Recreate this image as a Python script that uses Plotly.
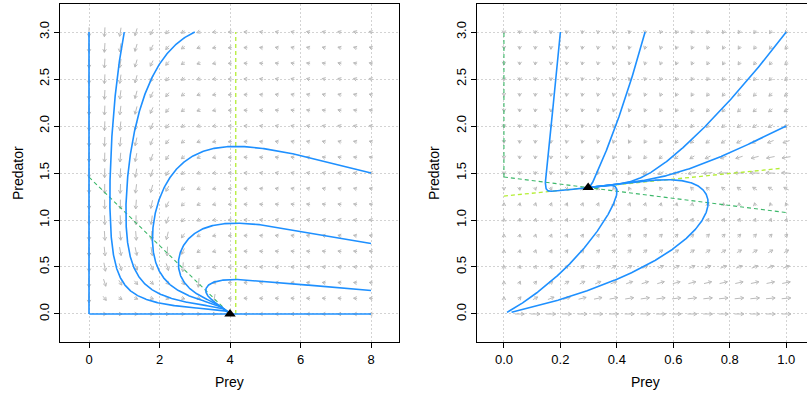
import numpy as np
import plotly.graph_objects as go

W, H = 807, 399

# ---------------- data ----------------
prey_ticks_a = [0, 2, 4, 6, 8]
prey_labels_a = ["0", "2", "4", "6", "8"]
prey_ticks_b = [0.0, 0.2, 0.4, 0.6, 0.8, 1.0]
prey_labels_b = ["0.0", "0.2", "0.4", "0.6", "0.8", "1.0"]
pred_ticks = [0.0, 0.5, 1.0, 1.5, 2.0, 2.5, 3.0]
pred_labels = ["0.0", "0.5", "1.0", "1.5", "2.0", "2.5", "3.0"]

# Model A: logistic prey, predator with linear response and mortality
par_a = {"r": 1.0, "K": 4.0, "a": 0.687, "b": 0.27, "m": 1.124}
start_a_prey = [0.0, 1.0, 3.0, 8.0, 8.0, 8.0, 8.0, 0.01]
start_a_pred = [3.0, 3.0, 3.0, 1.5, 0.75, 0.25, 0.0, 0.0]

# Model B: logistic prey; predator with theta-logistic growth towards a
# prey-dependent capacity h + q*prey
par_b = {"r": 1.166, "K": 3.85, "a": 0.80, "s": 1.2, "h": 1.255, "q": 0.3, "theta": 1.5}
start_b_prey = [0.2, 0.5, 1.0, 1.0, 0.011, 0.027]
start_b_pred = [3.0, 3.0, 3.0, 2.0, 0.0175, 0.0175]

field_a = {"prey": (0.0, 8.0), "pred": (0.0, 3.0), "n": 19}
field_b = {"prey": (0.0, 1.0), "pred": (0.0, 3.0), "n": 19}


def rhs_a(x, y, p=par_a):
    dx = p["r"] * x * (1 - x / p["K"]) - p["a"] * x * y
    dy = p["b"] * x * y - p["m"] * y
    return dx, dy


def rhs_b(x, y, p=par_b):
    dx = p["r"] * x * (1 - x / p["K"]) - p["a"] * x * y
    cap = p["h"] + p["q"] * x
    dy = p["s"] * y * (1 - (np.abs(y) / cap) ** p["theta"])
    return dx, dy


# ---------------- geometry (pixels) ----------------
BOX_Y = (4, 342)            # top, bottom
BOX_A = (60, 399)           # left, right
BOX_B = (477, 807)
RANGE_Y = [-0.298, 3.298]
RANGE_A = [-0.823, 8.794]
RANGE_B = [-0.0954, 1.0735]

sy = (BOX_Y[1] - BOX_Y[0]) / (RANGE_Y[1] - RANGE_Y[0])
sx_a = (BOX_A[1] - BOX_A[0]) / (RANGE_A[1] - RANGE_A[0])
sx_b = (BOX_B[1] - BOX_B[0]) / (RANGE_B[1] - RANGE_B[0])


def rk4(rhs, x0, y0, T, dt, sx, sy, min_px=0.4):
    X = np.array(x0, float)
    Y = np.array(y0, float)
    n = int(T / dt)
    hist_x = np.empty((n + 1, X.size))
    hist_y = np.empty((n + 1, X.size))
    hist_x[0], hist_y[0] = X, Y
    for i in range(n):
        k1x, k1y = rhs(X, Y)
        k2x, k2y = rhs(X + dt / 2 * k1x, Y + dt / 2 * k1y)
        k3x, k3y = rhs(X + dt / 2 * k2x, Y + dt / 2 * k2y)
        k4x, k4y = rhs(X + dt * k3x, Y + dt * k3y)
        X = X + dt / 6 * (k1x + 2 * k2x + 2 * k3x + k4x)
        Y = Y + dt / 6 * (k1y + 2 * k2y + 2 * k3y + k4y)
        hist_x[i + 1], hist_y[i + 1] = X, Y
    paths = []
    for j in range(X.size):
        xs, ys = hist_x[:, j], hist_y[:, j]
        keep_x, keep_y = [xs[0]], [ys[0]]
        for xv, yv in zip(xs[1:], ys[1:]):
            if np.hypot((xv - keep_x[-1]) * sx, (yv - keep_y[-1]) * sy) >= min_px:
                keep_x.append(xv)
                keep_y.append(yv)
        keep_x.append(xs[-1])
        keep_y.append(ys[-1])
        paths.append((keep_x, keep_y))
    return paths


def field_segments(rhs, field, sx, sy, frac=0.6, head=3.6):
    gx = np.linspace(*field["prey"], field["n"])
    gy = np.linspace(*field["pred"], field["n"])
    L = frac * min(gx[1] - gx[0], gy[1] - gy[0])
    X, Y = np.meshgrid(gx, gy)
    dx, dy = rhs(X, Y)
    nrm = np.hypot(dx, dy)
    ox, oy = [], []
    for x0, y0, u, v, n in zip(X.ravel(), Y.ravel(), dx.ravel(), dy.ravel(), nrm.ravel()):
        if n < 1e-12:
            continue
        px, py = u / n * L * sx, v / n * L * sy
        cx, cy = x0 * sx, y0 * sy
        ax, ay = cx - px / 2, cy - py / 2
        bx, by = cx + px / 2, cy + py / 2
        ang = np.arctan2(py, px)
        h1 = (bx - head * np.cos(ang - np.pi / 6), by - head * np.sin(ang - np.pi / 6))
        h2 = (bx - head * np.cos(ang + np.pi / 6), by - head * np.sin(ang + np.pi / 6))
        ox += [ax / sx, bx / sx, None, h1[0] / sx, bx / sx, h2[0] / sx, None]
        oy += [ay / sy, by / sy, None, h1[1] / sy, by / sy, h2[1] / sy, None]
    return ox, oy


FIELD_COL = "#BBBBBB"
TRAJ_COL = "#1E90FF"
PREY_NC_COL = "#3DB86A"
PRED_NC_COL = "#B4EE34"

fig = go.Figure()


def add_panel(xa, ya, rhs, field, sx, starts_x, starts_y, T, prey_nc, pred_nc, eq):
    fx, fy = field_segments(rhs, field, sx, sy)
    fig.add_trace(go.Scatter(x=fx, y=fy, mode="lines", xaxis=xa, yaxis=ya,
                             line=dict(color=FIELD_COL, width=1), hoverinfo="skip"))
    for (nx, ny) in prey_nc:
        fig.add_trace(go.Scatter(x=nx, y=ny, mode="lines", xaxis=xa, yaxis=ya,
                                 line=dict(color=PREY_NC_COL, width=1.1, dash="4px,3px")))
    for (nx, ny) in pred_nc:
        fig.add_trace(go.Scatter(x=nx, y=ny, mode="lines", xaxis=xa, yaxis=ya,
                                 line=dict(color=PRED_NC_COL, width=1.3, dash="4px,3px")))
    for px, py in rk4(rhs, starts_x, starts_y, T, 0.005, sx, sy):
        fig.add_trace(go.Scatter(x=px, y=py, mode="lines", xaxis=xa, yaxis=ya,
                                 line=dict(color=TRAJ_COL, width=1.6)))
    fig.add_trace(go.Scatter(x=[eq[0]], y=[eq[1]], mode="markers", xaxis=xa, yaxis=ya,
                             marker=dict(symbol="triangle-up", size=10, color="black")))


# ---- panel A nullclines and equilibrium
pa = par_a
xa_line = np.linspace(0, pa["K"], 50)
prey_nc_a = [(xa_line, pa["r"] / pa["a"] * (1 - xa_line / pa["K"]))]
pred_nc_a = [([pa["m"] / pa["b"]] * 2, [0.0, 3.0])]
eq_a = (pa["K"], 0.0)

# ---- panel B nullclines and equilibrium
pb = par_b
xb_line = np.linspace(0, 1, 50)
ra = pb["r"] / pb["a"]
prey_nc_b = [(xb_line, ra * (1 - xb_line / pb["K"])),
             ([0.0, 0.0], [ra, 3.0])]
pred_nc_b = [(xb_line[:-1], pb["h"] + pb["q"] * xb_line[:-1])]
x_eq = (ra - pb["h"]) / (ra / pb["K"] + pb["q"])
eq_b = (x_eq, pb["h"] + pb["q"] * x_eq)

add_panel("x", "y", rhs_a, field_a, sx_a, start_a_prey, start_a_pred, 300,
          prey_nc_a, pred_nc_a, eq_a)
add_panel("x2", "y2", rhs_b, field_b, sx_b, start_b_prey, start_b_pred, 200,
          prey_nc_b, pred_nc_b, eq_b)

FONT = "Liberation Sans, Arial, sans-serif"
tickfont = dict(family=FONT, size=13, color="black")
common = dict(showline=True, linecolor="black", linewidth=1, ticks="outside",
              ticklen=5, tickwidth=1, tickcolor="black", showgrid=True,
              gridcolor="#D3D3D3", griddash="2px,2px", gridwidth=1,
              zeroline=False, tickfont=tickfont, fixedrange=True)

ydom = [(H - BOX_Y[1]) / H, (H - BOX_Y[0]) / H]
fig.update_layout(
    width=W, height=H, margin=dict(l=0, r=0, t=0, b=0),
    paper_bgcolor="white", plot_bgcolor="white", showlegend=False,
    xaxis=dict(domain=[BOX_A[0] / W, BOX_A[1] / W], range=RANGE_A, anchor="y",
               tickvals=prey_ticks_a, ticktext=prey_labels_a, mirror=True, **common),
    yaxis=dict(domain=ydom, range=RANGE_Y, anchor="x", tickvals=pred_ticks,
               ticktext=pred_labels, tickangle=-90, mirror=True, **common),
    xaxis2=dict(domain=[BOX_B[0] / W, 1.0], range=RANGE_B, anchor="y2",
                tickvals=prey_ticks_b, ticktext=prey_labels_b, mirror=True, **common),
    yaxis2=dict(domain=ydom, range=RANGE_Y, anchor="x2", tickvals=pred_ticks,
                ticktext=pred_labels, tickangle=-90, mirror=False, **common),
)

titlefont = dict(family=FONT, size=14, color="black")
for xc, text in [((BOX_A[0] + BOX_A[1]) / 2, "Prey"), ((477 + 814) / 2, "Prey")]:
    fig.add_annotation(x=xc / W, y=(H - 382) / H, xref="paper", yref="paper",
                       text=text, showarrow=False, font=titlefont,
                       xanchor="center", yanchor="middle")
for xc in [18, 434]:
    fig.add_annotation(x=xc / W, y=(H - (BOX_Y[0] + BOX_Y[1]) / 2) / H,
                       xref="paper", yref="paper", text="Predator", textangle=-90,
                       showarrow=False, font=titlefont, xanchor="center", yanchor="middle")

fig.write_html("out.html")
